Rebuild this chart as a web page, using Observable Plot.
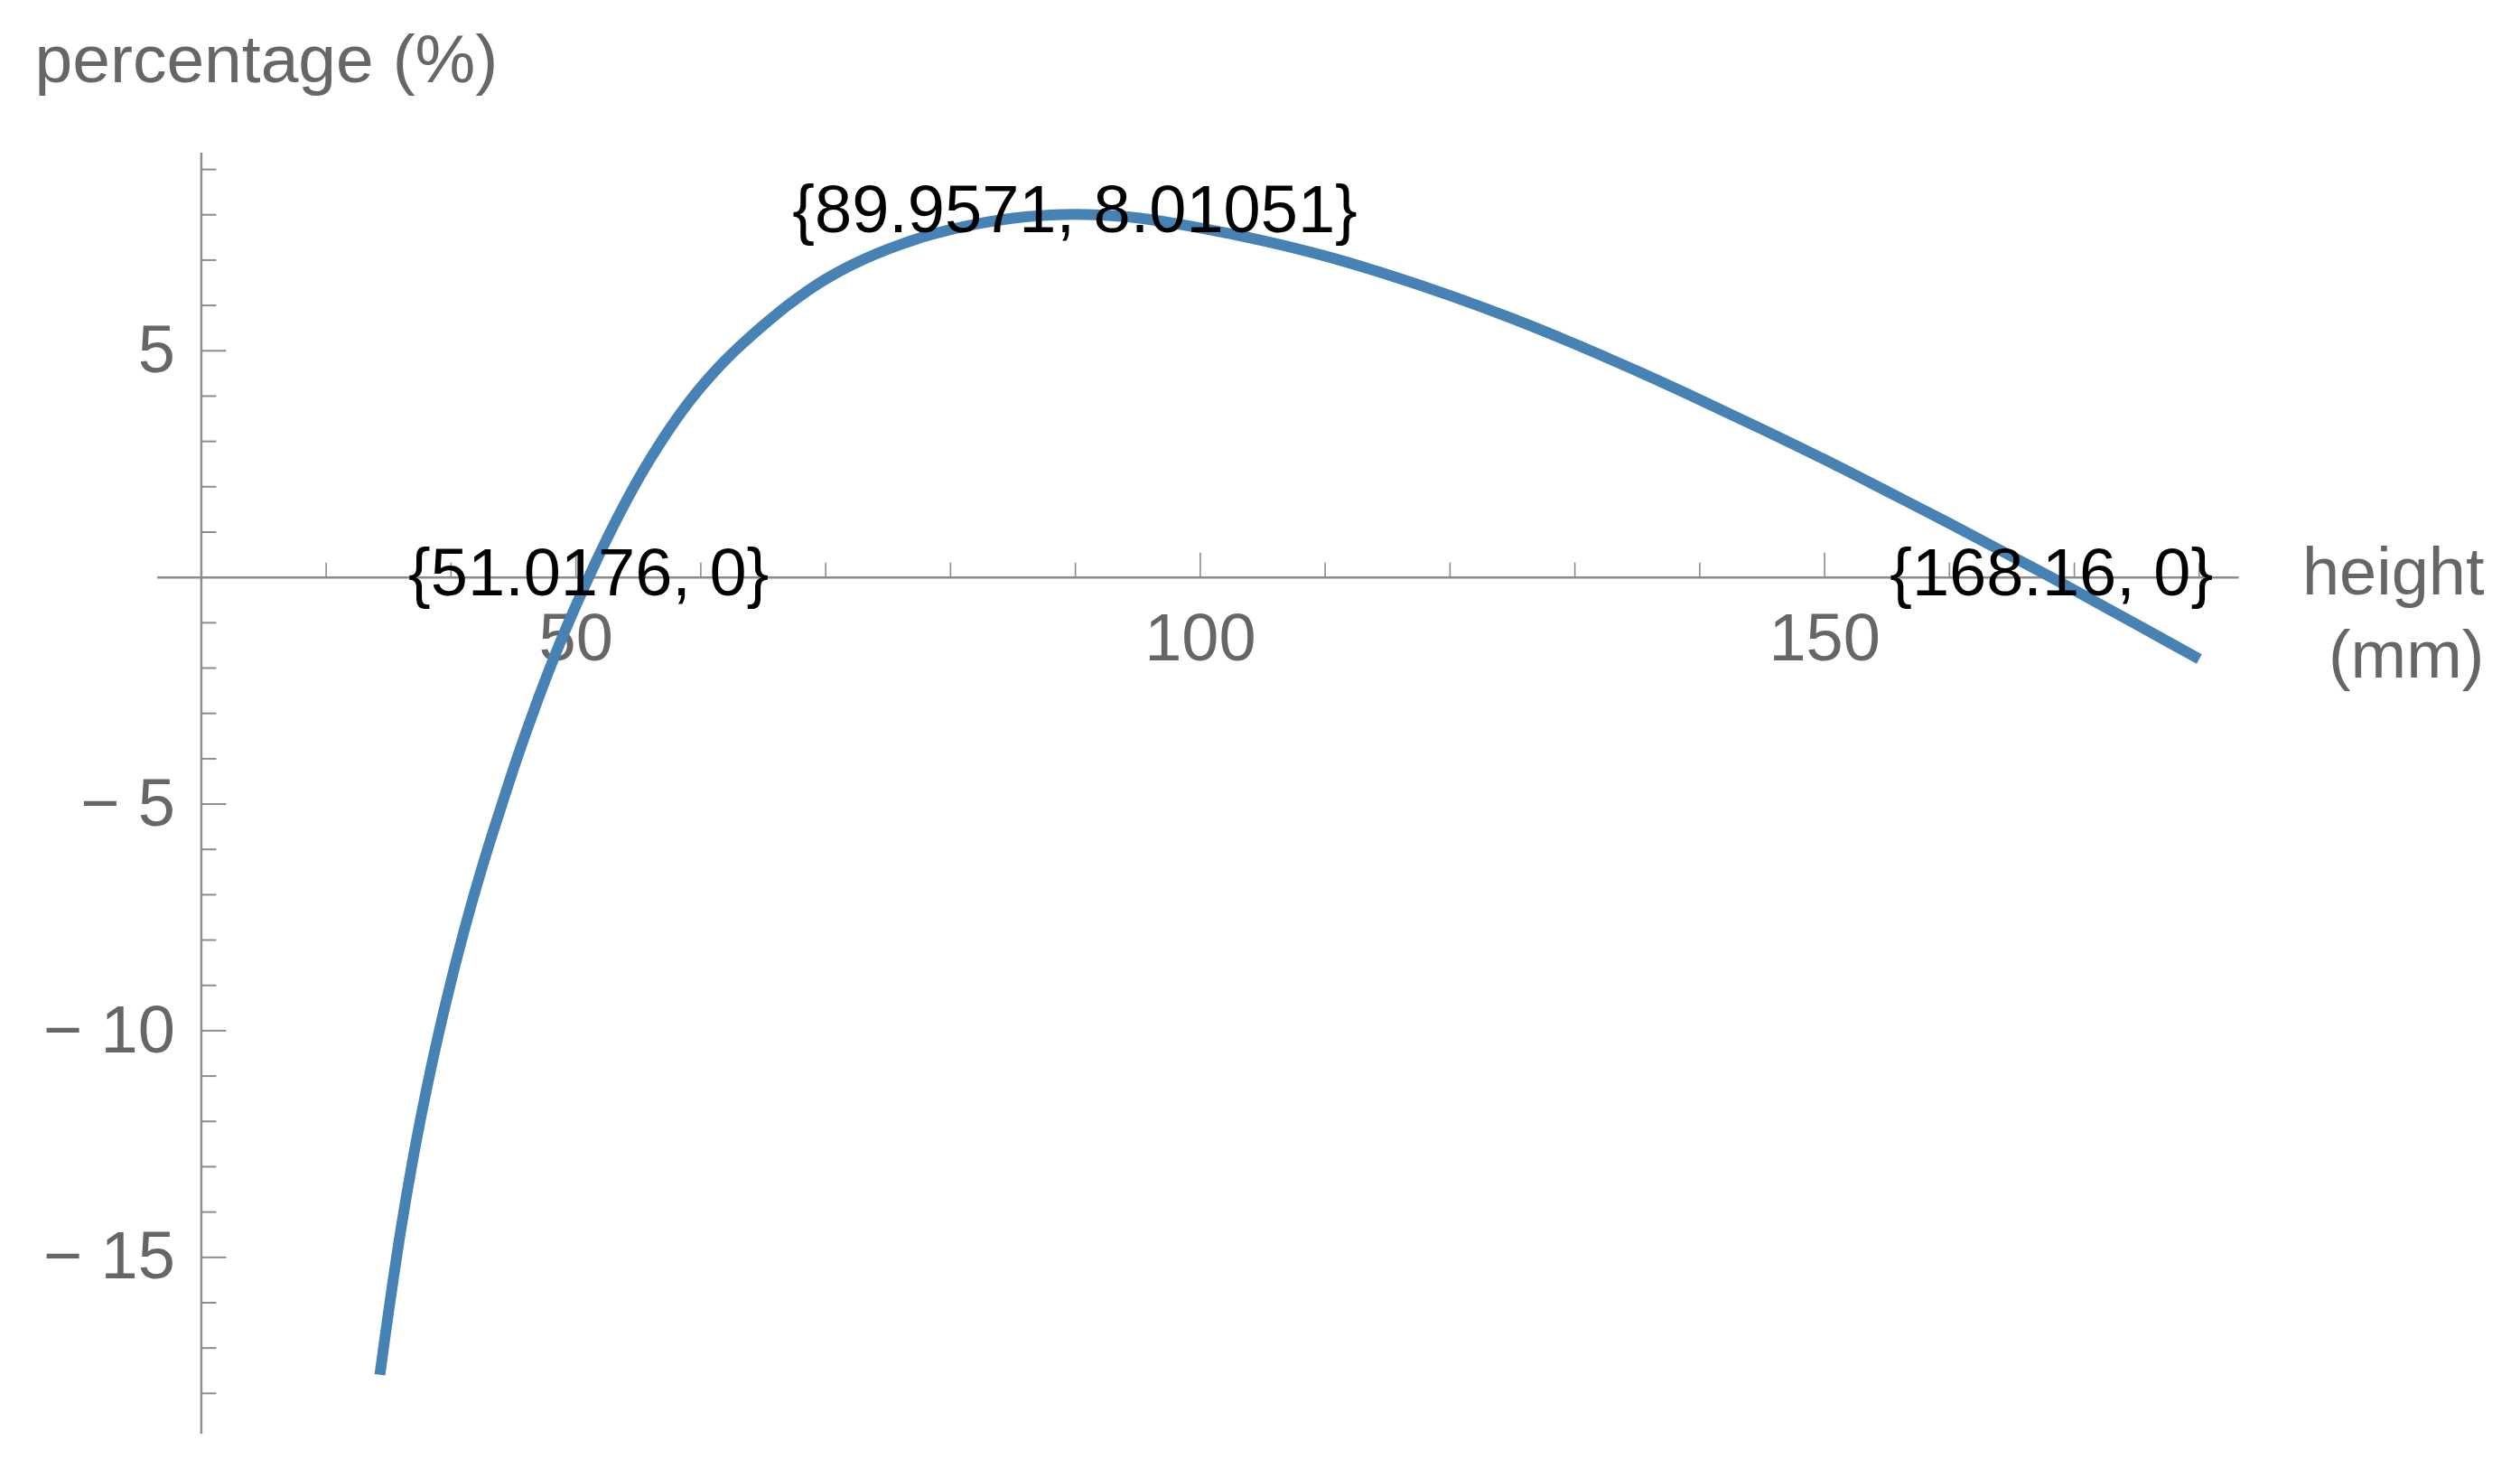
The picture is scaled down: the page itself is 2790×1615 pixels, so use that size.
<!DOCTYPE html>
<html>
<head>
<meta charset="utf-8">
<script src="https://cdn.jsdelivr.net/npm/d3@7"></script>
<script src="https://cdn.jsdelivr.net/npm/@observablehq/plot@0.6"></script>
<style>
  html, body { margin: 0; padding: 0; background: #ffffff; }
  #chart svg { display: block; }
</style>
</head>
<body>
<div id="chart"></div>
<script>
// ---- data ----
const heights = [34.3, 35, 36, 37, 38, 39, 40, 41, 42, 43, 44, 45, 46, 47, 48, 49, 50, 51.0176, 52, 53, 54, 55, 56, 57, 58, 59, 60, 61, 62, 63, 64, 65, 66, 67, 68, 69, 70, 72, 74, 76, 78, 80, 82, 84, 86, 88, 89.9571, 92, 95, 100, 105, 110, 115, 120, 125, 130, 135, 140, 145, 150, 155, 160, 168.16, 170, 175, 180];
const percents = [-17.59, -16.19, -14.35, -12.75, -11.34, -10.07, -8.91, -7.84, -6.85, -5.93, -5.07, -4.22, -3.42, -2.66, -1.94, -1.26, -0.62, 0, 0.58, 1.14, 1.67, 2.17, 2.635, 3.07, 3.475, 3.85, 4.195, 4.51, 4.80, 5.07, 5.32, 5.56, 5.79, 6.01, 6.215, 6.405, 6.58, 6.88, 7.133, 7.346, 7.525, 7.672, 7.792, 7.886, 7.955, 7.997, 8.01051, 7.995, 7.93, 7.71, 7.43, 7.09, 6.68, 6.22, 5.71, 5.15, 4.55, 3.92, 3.27, 2.60, 1.90, 1.19, 0, -0.28, -1.04, -1.80];

const xMajorTicks = [50, 100, 150];
const xTickLabels = ["50", "100", "150"];
const xMinorTicks = [30, 40, 60, 70, 80, 90, 110, 120, 130, 140, 160, 170, 180];

const yMajorTicks = [-15, -10, -5, 5];
const yTickLabels = ["\u2212 15", "\u2212 10", "\u2212 5", "5"];
const yMinorTicks = [-18, -17, -16, -14, -13, -12, -11, -9, -8, -7, -6, -4, -3, -2, -1, 1, 2, 3, 4, 6, 7, 8, 9];

const annotationX = [51.0176, 89.9571, 168.16];
const annotationY = [0, 8.01051, 0];
const annotationLabels = ["{51.0176, 0}", "{89.9571, 8.01051}", "{168.16, 0}"];

const yAxisTitle = "percentage (%)";
const xAxisTitle = "height\n(mm)";

// ---- axis geometry (in data units) ----
const xDomain = [20, 183.2];
const yDomain = [-18.9, 9.36];
const xAxisStart = 16.5;
const yAxisAt = 20;

// ---- styles ----
const curveColor = "#4682b4";
const axisColor = "#8c8c8c";
const labelColor = "#666666";
const font = "'Liberation Sans', Arial, sans-serif";

const data = heights.map((h, i) => ({h, p: percents[i]}));

const chart = Plot.plot({
  width: 2790,
  height: 1615,
  marginLeft: 222.4,
  marginRight: 311.4,
  marginTop: 169,
  marginBottom: 28,
  x: {domain: xDomain, axis: null},
  y: {domain: yDomain, axis: null},
  style: {fontFamily: font, background: "#ffffff"},
  marks: [
    // axes lines
    Plot.ruleY([0], {x1: xAxisStart, x2: xDomain[1], stroke: axisColor, strokeWidth: 2.5}),
    Plot.ruleX([yAxisAt], {stroke: axisColor, strokeWidth: 2.5}),
    // x ticks (pointing up)
    Plot.ruleX(xMinorTicks, {x: d => d, y1: 0, y2: 0, insetTop: -16, stroke: axisColor, strokeWidth: 1.6}),
    Plot.ruleX(xMajorTicks, {x: d => d, y1: 0, y2: 0, insetTop: -27, stroke: axisColor, strokeWidth: 1.6}),
    // y ticks (pointing right)
    Plot.ruleY(yMinorTicks, {y: d => d, x1: yAxisAt, x2: yAxisAt, insetRight: -17, stroke: axisColor, strokeWidth: 2}),
    Plot.ruleY(yMajorTicks, {y: d => d, x1: yAxisAt, x2: yAxisAt, insetRight: -28, stroke: axisColor, strokeWidth: 2}),
    // tick labels
    Plot.text(xMajorTicks, {x: d => d, y: 0, text: (d, i) => xTickLabels[i], dy: 92, lineAnchor: "bottom", fontSize: 74, fill: labelColor}),
    Plot.text(yMajorTicks, {x: yAxisAt, y: d => d, text: (d, i) => yTickLabels[i], textAnchor: "end", dx: -29, fontSize: 74, fill: labelColor}),
    // axis titles
    Plot.text([yAxisTitle], {frameAnchor: "top-left", text: d => d, textAnchor: "start", lineAnchor: "bottom", dx: -184.4, dy: -79, fontSize: 75, fill: labelColor}),
    Plot.text([xAxisTitle], {x: xDomain[1], y: 0, text: d => d, textAnchor: "end", lineAnchor: "bottom", lineHeight: 1.243, dx: 271.4, dy: 111.2, fontSize: 74, fill: labelColor}),
    // curve
    Plot.line(data, {x: "h", y: "p", stroke: curveColor, strokeWidth: 12, curve: "catmull-rom", strokeLinecap: "butt"}),
    // annotations
    Plot.text(annotationLabels, {x: (d, i) => annotationX[i], y: (d, i) => annotationY[i], text: d => d, dy: -4, fontSize: 74, fill: "#000000"})
  ]
});

document.getElementById("chart").appendChild(chart);
</script>
</body>
</html>
